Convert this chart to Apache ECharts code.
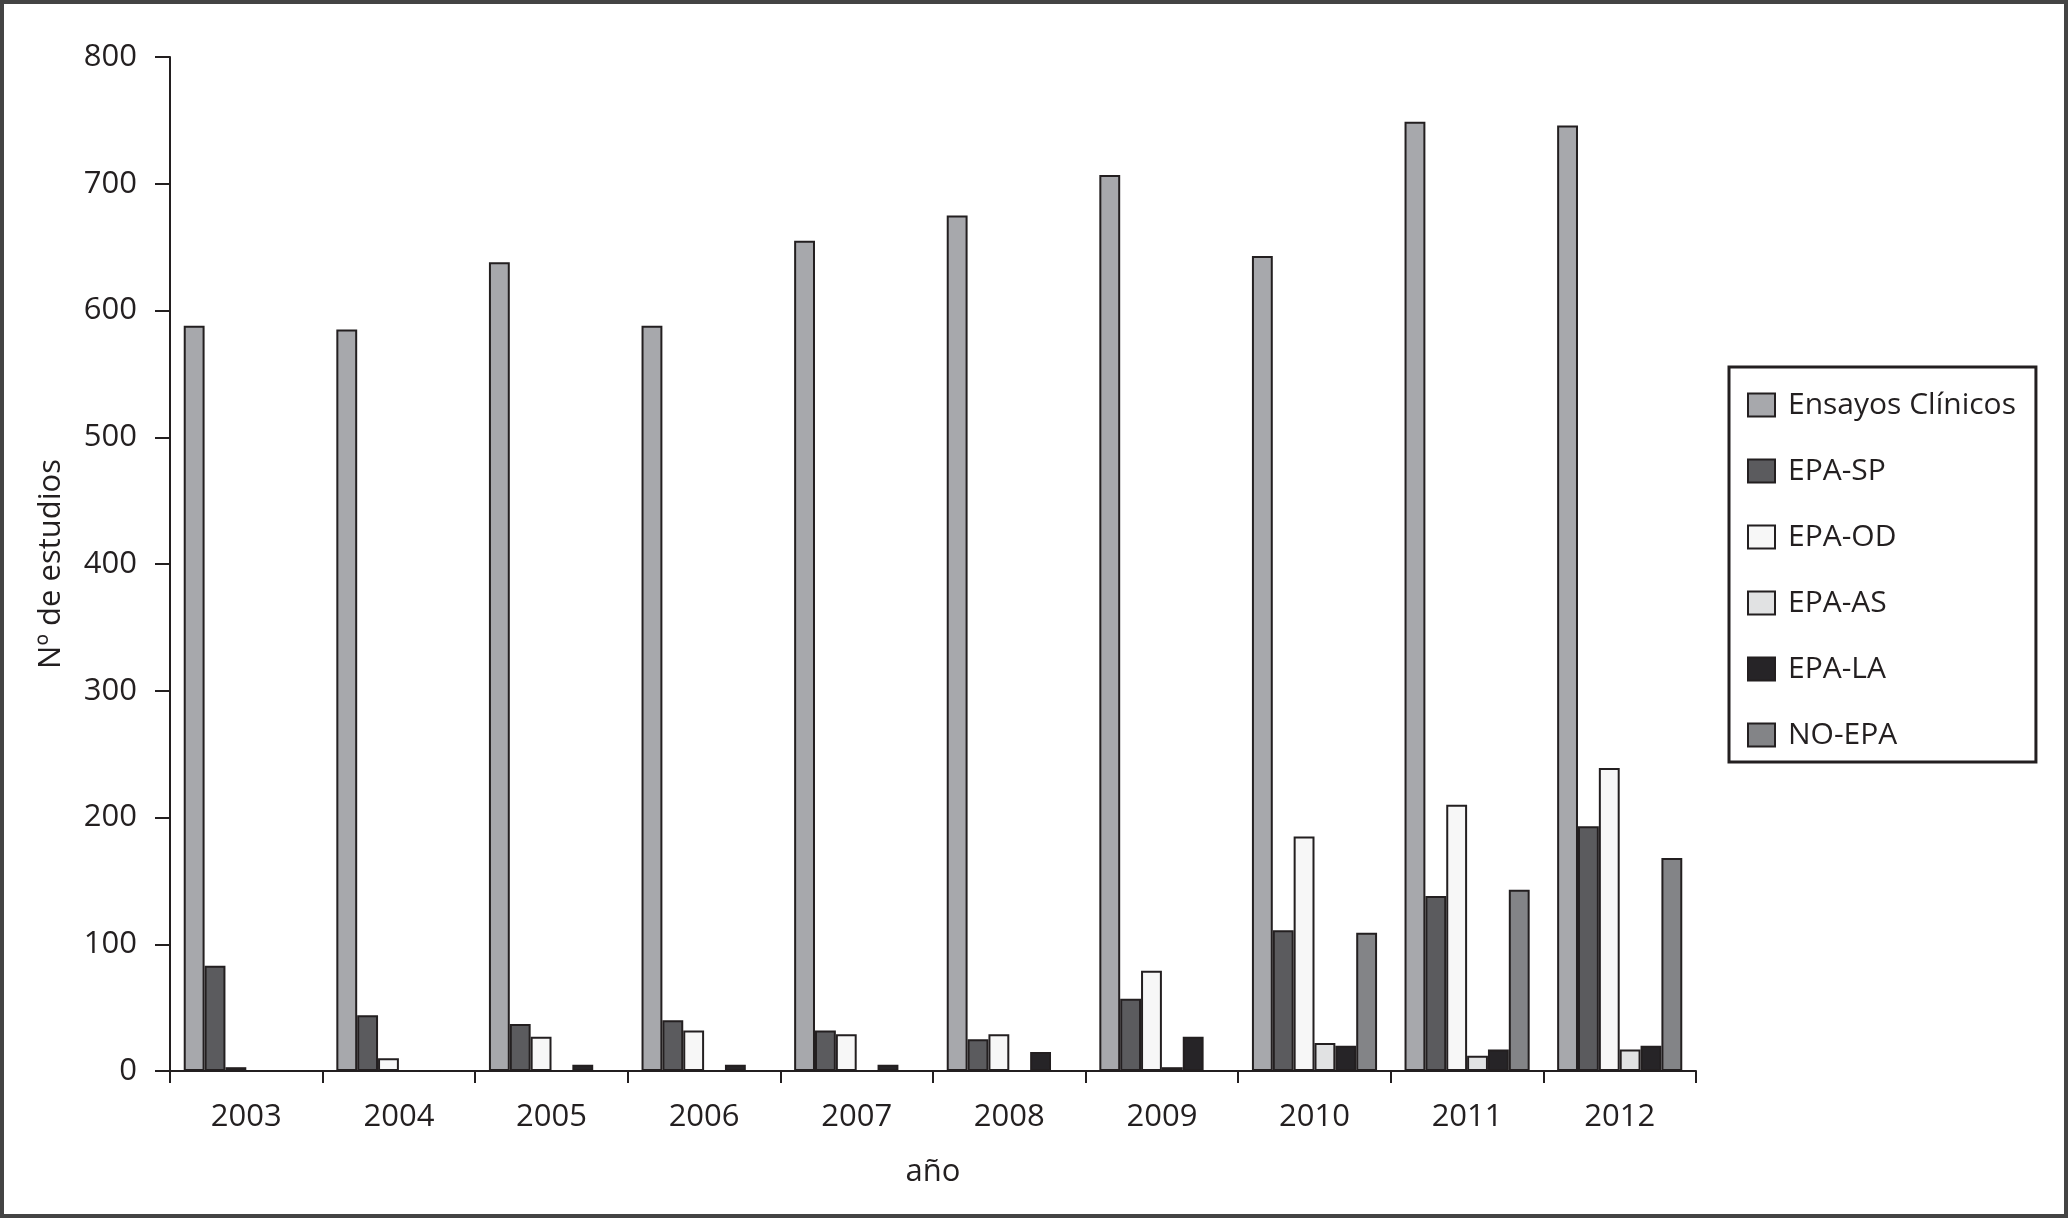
<!DOCTYPE html>
<html>
<head>
<meta charset="utf-8">
<title>Nº de estudios por año</title>
<script src="https://cdn.jsdelivr.net/npm/echarts@6/dist/echarts.min.js"></script>
<style>
  html, body { margin: 0; padding: 0; background: #fff; }
  #chart { position: absolute; left: 0; top: 0; width: 2068px; height: 1218px; }
  #frame {
    position: absolute; left: 0; top: 0; width: 2068px; height: 1218px;
    box-sizing: border-box; border: 4px solid #444; pointer-events: none;
  }
</style>
</head>
<body>
<div id="chart"></div>
<div id="frame"></div>
<script>
// años
const years = ["2003", "2004", "2005", "2006", "2007", "2008", "2009", "2010", "2011", "2012"];
// series
const ensayos = [588, 585, 638, 588, 655, 675, 707, 643, 749, 746];
const epaSP = [83, 44, 37, 40, 32, 25, 57, 111, 138, 193];
const epaOD = [3, 10, 27, 32, 29, 29, 79, 185, 210, 239];
const epaAS = [0, 0, 0, 0, 0, 0, 3, 22, 12, 17];
const epaLA = [0, 0, 5, 5, 5, 15, 27, 20, 17, 20];
const noEPA = [0, 0, 0, 0, 0, 0, 0, 109, 143, 168];

const names = ["Ensayos Clínicos", "EPA-SP", "EPA-OD", "EPA-AS", "EPA-LA", "NO-EPA"];
const colors = ["#a7a8ac", "#5b5b5e", "#f7f7f7", "#e1e2e3", "#262427", "#838487"];
const values = [ensayos, epaSP, epaOD, epaAS, epaLA, noEPA];

const ink = "#231f20";
const font = "'Open Sans', 'Noto Sans', sans-serif";

const myChart = echarts.init(document.getElementById("chart"));

const option = {
  animation: false,
  color: colors,
  textStyle: { fontFamily: font, color: ink },
  grid: {
    left: 170,
    right: 372,
    top: 57,
    bottom: 147,
  },
  legend: {
    orient: "vertical",
    left: 1729,
    top: 367,
    data: names,
    icon: "rect",
    itemWidth: 27,
    itemHeight: 23,
    itemGap: 36,
    padding: [23, 20, 12, 18],
    borderColor: ink,
    borderWidth: 3,
    textStyle: { fontSize: 30, lineHeight: 30, color: ink, padding: [0, 0, 0, 8] },
  },
  xAxis: {
    type: "category",
    data: years,
    name: "año",
    nameLocation: "middle",
    nameGap: 86,
    nameTextStyle: { fontSize: 31, color: ink },
    axisLine: { lineStyle: { color: ink, width: 2 } },
    axisTick: { show: true, length: 12, lineStyle: { color: ink, width: 2 } },
    axisLabel: { fontSize: 31, color: ink, margin: 31 },
  },
  yAxis: {
    type: "value",
    min: 0,
    max: 800,
    interval: 100,
    name: "Nº de estudios",
    nameLocation: "middle",
    nameGap: 103,
    nameTextStyle: { fontSize: 31, color: ink },
    axisLine: { show: true, lineStyle: { color: ink, width: 2 } },
    axisTick: { show: true, length: 15, lineStyle: { color: ink, width: 2 } },
    axisLabel: { fontSize: 31, color: ink, margin: 33 },
    splitLine: { show: false },
  },
  series: names.map((name, i) => ({
    name: name,
    type: "bar",
    data: values[i],
    barGap: "0%",
    barCategoryGap: "18%",
    itemStyle: { color: colors[i], borderColor: ink, borderWidth: 2 },
  })),
};

myChart.setOption(option);
</script>
</body>
</html>
